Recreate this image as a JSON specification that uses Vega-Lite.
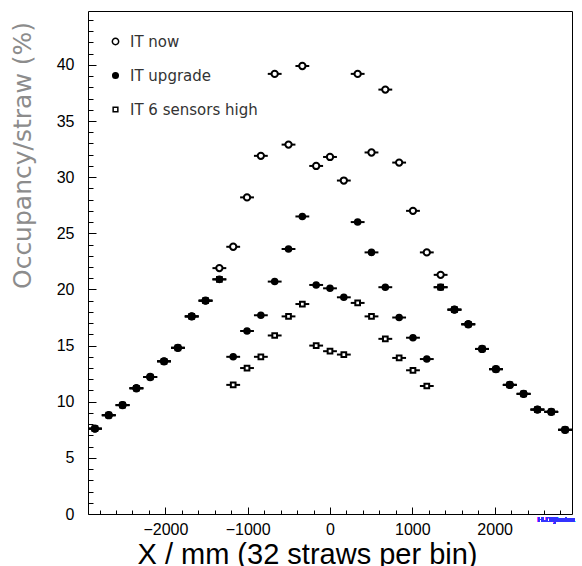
{
  "$schema": "https://vega.github.io/schema/vega-lite/v6.json",
  "width": 484,
  "height": 503,
  "autosize": {"type": "none"},
  "padding": {"left": 88, "top": 11, "right": 10, "bottom": 52},
  "background": "white",
  "config": {
    "view": {"stroke": "black", "strokeWidth": 1},
    "axis": {"domainColor": "black", "tickColor": "black", "labelColor": "black", "grid": false, "labelOverlap": false},
    "legend": {
      "orient": "none", "legendX": 20, "legendY": 23,
      "labelFont": "DejaVu Sans", "labelFontSize": 15, "labelColor": "#333333",
      "rowPadding": 18, "labelOffset": 7, "padding": 0,
      "symbolStrokeWidth": 1.5
    }
  },
  "data": {
    "values": [
      {"series": "IT 6 sensors high", "x": -2856, "lo": -2940, "hi": -2772, "y": 7.6},
      {"series": "IT 6 sensors high", "x": -2688, "lo": -2772, "hi": -2604, "y": 8.8},
      {"series": "IT 6 sensors high", "x": -2520, "lo": -2604, "hi": -2436, "y": 9.7},
      {"series": "IT 6 sensors high", "x": -2352, "lo": -2436, "hi": -2268, "y": 11.2},
      {"series": "IT 6 sensors high", "x": -2184, "lo": -2268, "hi": -2100, "y": 12.2},
      {"series": "IT 6 sensors high", "x": -2016, "lo": -2100, "hi": -1932, "y": 13.6},
      {"series": "IT 6 sensors high", "x": -1848, "lo": -1932, "hi": -1764, "y": 14.8},
      {"series": "IT 6 sensors high", "x": -1680, "lo": -1764, "hi": -1596, "y": 17.6},
      {"series": "IT 6 sensors high", "x": -1512, "lo": -1596, "hi": -1428, "y": 19.0},
      {"series": "IT 6 sensors high", "x": -1344, "lo": -1428, "hi": -1260, "y": 20.9},
      {"series": "IT 6 sensors high", "x": -1176, "lo": -1260, "hi": -1092, "y": 11.5},
      {"series": "IT 6 sensors high", "x": -1008, "lo": -1092, "hi": -924, "y": 13.0},
      {"series": "IT 6 sensors high", "x": -840, "lo": -924, "hi": -756, "y": 14.0},
      {"series": "IT 6 sensors high", "x": -672, "lo": -756, "hi": -588, "y": 15.9},
      {"series": "IT 6 sensors high", "x": -504, "lo": -588, "hi": -420, "y": 17.6},
      {"series": "IT 6 sensors high", "x": -336, "lo": -420, "hi": -252, "y": 18.7},
      {"series": "IT 6 sensors high", "x": -168, "lo": -252, "hi": -84, "y": 15.0},
      {"series": "IT 6 sensors high", "x": 0, "lo": -84, "hi": 84, "y": 14.5},
      {"series": "IT 6 sensors high", "x": 168, "lo": 84, "hi": 252, "y": 14.2},
      {"series": "IT 6 sensors high", "x": 336, "lo": 252, "hi": 420, "y": 18.8},
      {"series": "IT 6 sensors high", "x": 504, "lo": 420, "hi": 588, "y": 17.6},
      {"series": "IT 6 sensors high", "x": 672, "lo": 588, "hi": 756, "y": 15.6},
      {"series": "IT 6 sensors high", "x": 840, "lo": 756, "hi": 924, "y": 13.9},
      {"series": "IT 6 sensors high", "x": 1008, "lo": 924, "hi": 1092, "y": 12.8},
      {"series": "IT 6 sensors high", "x": 1176, "lo": 1092, "hi": 1260, "y": 11.4},
      {"series": "IT 6 sensors high", "x": 1344, "lo": 1260, "hi": 1428, "y": 20.2},
      {"series": "IT 6 sensors high", "x": 1512, "lo": 1428, "hi": 1596, "y": 18.2},
      {"series": "IT 6 sensors high", "x": 1680, "lo": 1596, "hi": 1764, "y": 16.9},
      {"series": "IT 6 sensors high", "x": 1848, "lo": 1764, "hi": 1932, "y": 14.7},
      {"series": "IT 6 sensors high", "x": 2016, "lo": 1932, "hi": 2100, "y": 12.9},
      {"series": "IT 6 sensors high", "x": 2184, "lo": 2100, "hi": 2268, "y": 11.5},
      {"series": "IT 6 sensors high", "x": 2352, "lo": 2268, "hi": 2436, "y": 10.7},
      {"series": "IT 6 sensors high", "x": 2520, "lo": 2436, "hi": 2604, "y": 9.3},
      {"series": "IT 6 sensors high", "x": 2688, "lo": 2604, "hi": 2772, "y": 9.1},
      {"series": "IT 6 sensors high", "x": 2856, "lo": 2772, "hi": 2940, "y": 7.5},

      {"series": "IT now", "x": -2856, "lo": -2940, "hi": -2772, "y": 7.6},
      {"series": "IT now", "x": -2688, "lo": -2772, "hi": -2604, "y": 8.8},
      {"series": "IT now", "x": -2520, "lo": -2604, "hi": -2436, "y": 9.7},
      {"series": "IT now", "x": -2352, "lo": -2436, "hi": -2268, "y": 11.2},
      {"series": "IT now", "x": -2184, "lo": -2268, "hi": -2100, "y": 12.2},
      {"series": "IT now", "x": -2016, "lo": -2100, "hi": -1932, "y": 13.6},
      {"series": "IT now", "x": -1848, "lo": -1932, "hi": -1764, "y": 14.8},
      {"series": "IT now", "x": -1680, "lo": -1764, "hi": -1596, "y": 17.6},
      {"series": "IT now", "x": -1512, "lo": -1596, "hi": -1428, "y": 19.0},
      {"series": "IT now", "x": -1344, "lo": -1428, "hi": -1260, "y": 21.9},
      {"series": "IT now", "x": -1176, "lo": -1260, "hi": -1092, "y": 23.8},
      {"series": "IT now", "x": -1008, "lo": -1092, "hi": -924, "y": 28.2},
      {"series": "IT now", "x": -840, "lo": -924, "hi": -756, "y": 31.9},
      {"series": "IT now", "x": -672, "lo": -756, "hi": -588, "y": 39.2},
      {"series": "IT now", "x": -504, "lo": -588, "hi": -420, "y": 32.9},
      {"series": "IT now", "x": -336, "lo": -420, "hi": -252, "y": 39.9},
      {"series": "IT now", "x": -168, "lo": -252, "hi": -84, "y": 31.0},
      {"series": "IT now", "x": 0, "lo": -84, "hi": 84, "y": 31.8},
      {"series": "IT now", "x": 168, "lo": 84, "hi": 252, "y": 29.7},
      {"series": "IT now", "x": 336, "lo": 252, "hi": 420, "y": 39.2},
      {"series": "IT now", "x": 504, "lo": 420, "hi": 588, "y": 32.2},
      {"series": "IT now", "x": 672, "lo": 588, "hi": 756, "y": 37.8},
      {"series": "IT now", "x": 840, "lo": 756, "hi": 924, "y": 31.3},
      {"series": "IT now", "x": 1008, "lo": 924, "hi": 1092, "y": 27.0},
      {"series": "IT now", "x": 1176, "lo": 1092, "hi": 1260, "y": 23.3},
      {"series": "IT now", "x": 1344, "lo": 1260, "hi": 1428, "y": 21.3},
      {"series": "IT now", "x": 1512, "lo": 1428, "hi": 1596, "y": 18.2},
      {"series": "IT now", "x": 1680, "lo": 1596, "hi": 1764, "y": 16.9},
      {"series": "IT now", "x": 1848, "lo": 1764, "hi": 1932, "y": 14.7},
      {"series": "IT now", "x": 2016, "lo": 1932, "hi": 2100, "y": 12.9},
      {"series": "IT now", "x": 2184, "lo": 2100, "hi": 2268, "y": 11.5},
      {"series": "IT now", "x": 2352, "lo": 2268, "hi": 2436, "y": 10.7},
      {"series": "IT now", "x": 2520, "lo": 2436, "hi": 2604, "y": 9.3},
      {"series": "IT now", "x": 2688, "lo": 2604, "hi": 2772, "y": 9.1},
      {"series": "IT now", "x": 2856, "lo": 2772, "hi": 2940, "y": 7.5},

      {"series": "IT upgrade", "x": -2856, "lo": -2940, "hi": -2772, "y": 7.6},
      {"series": "IT upgrade", "x": -2688, "lo": -2772, "hi": -2604, "y": 8.8},
      {"series": "IT upgrade", "x": -2520, "lo": -2604, "hi": -2436, "y": 9.7},
      {"series": "IT upgrade", "x": -2352, "lo": -2436, "hi": -2268, "y": 11.2},
      {"series": "IT upgrade", "x": -2184, "lo": -2268, "hi": -2100, "y": 12.2},
      {"series": "IT upgrade", "x": -2016, "lo": -2100, "hi": -1932, "y": 13.6},
      {"series": "IT upgrade", "x": -1848, "lo": -1932, "hi": -1764, "y": 14.8},
      {"series": "IT upgrade", "x": -1680, "lo": -1764, "hi": -1596, "y": 17.6},
      {"series": "IT upgrade", "x": -1512, "lo": -1596, "hi": -1428, "y": 19.0},
      {"series": "IT upgrade", "x": -1344, "lo": -1428, "hi": -1260, "y": 20.9},
      {"series": "IT upgrade", "x": -1176, "lo": -1260, "hi": -1092, "y": 14.0},
      {"series": "IT upgrade", "x": -1008, "lo": -1092, "hi": -924, "y": 16.3},
      {"series": "IT upgrade", "x": -840, "lo": -924, "hi": -756, "y": 17.7},
      {"series": "IT upgrade", "x": -672, "lo": -756, "hi": -588, "y": 20.7},
      {"series": "IT upgrade", "x": -504, "lo": -588, "hi": -420, "y": 23.6},
      {"series": "IT upgrade", "x": -336, "lo": -420, "hi": -252, "y": 26.5},
      {"series": "IT upgrade", "x": -168, "lo": -252, "hi": -84, "y": 20.4},
      {"series": "IT upgrade", "x": 0, "lo": -84, "hi": 84, "y": 20.1},
      {"series": "IT upgrade", "x": 168, "lo": 84, "hi": 252, "y": 19.3},
      {"series": "IT upgrade", "x": 336, "lo": 252, "hi": 420, "y": 26.0},
      {"series": "IT upgrade", "x": 504, "lo": 420, "hi": 588, "y": 23.3},
      {"series": "IT upgrade", "x": 672, "lo": 588, "hi": 756, "y": 20.2},
      {"series": "IT upgrade", "x": 840, "lo": 756, "hi": 924, "y": 17.5},
      {"series": "IT upgrade", "x": 1008, "lo": 924, "hi": 1092, "y": 15.7},
      {"series": "IT upgrade", "x": 1176, "lo": 1092, "hi": 1260, "y": 13.8},
      {"series": "IT upgrade", "x": 1344, "lo": 1260, "hi": 1428, "y": 20.2},
      {"series": "IT upgrade", "x": 1512, "lo": 1428, "hi": 1596, "y": 18.2},
      {"series": "IT upgrade", "x": 1680, "lo": 1596, "hi": 1764, "y": 16.9},
      {"series": "IT upgrade", "x": 1848, "lo": 1764, "hi": 1932, "y": 14.7},
      {"series": "IT upgrade", "x": 2016, "lo": 1932, "hi": 2100, "y": 12.9},
      {"series": "IT upgrade", "x": 2184, "lo": 2100, "hi": 2268, "y": 11.5},
      {"series": "IT upgrade", "x": 2352, "lo": 2268, "hi": 2436, "y": 10.7},
      {"series": "IT upgrade", "x": 2520, "lo": 2436, "hi": 2604, "y": 9.3},
      {"series": "IT upgrade", "x": 2688, "lo": 2604, "hi": 2772, "y": 9.1},
      {"series": "IT upgrade", "x": 2856, "lo": 2772, "hi": 2940, "y": 7.5}
    ]
  },
  "layer": [
    {
      "mark": {"type": "rule", "color": "black", "strokeWidth": 2},
      "encoding": {
        "x": {
          "field": "lo", "type": "quantitative",
          "scale": {"domain": [-2940, 2940], "nice": false, "zero": false},
          "axis": {
            "title": "X / mm (32 straws per bin)",
            "titleFont": "Liberation Sans", "titleFontSize": 29, "titleFontWeight": "normal", "titleColor": "black",
            "titleX": 219, "titleY": 49, "titleAlign": "center", "titleBaseline": "alphabetic",
            "values": [-2800, -2600, -2400, -2200, -2000, -1800, -1600, -1400, -1200, -1000, -800, -600, -400, -200, 0, 200, 400, 600, 800, 1000, 1200, 1400, 1600, 1800, 2000, 2200, 2400, 2600, 2800],
            "tickCount": 200,
            "labelExpr": "datum.value % 1000 === 0 ? datum.label : ''",
            "format": "d",
            "labelFont": "Liberation Sans", "labelFontSize": 16,
            "labelPadding": 14,
            "tickSize": {"condition": {"test": "datum.value % 1000 === 0", "value": -7}, "value": -4},
            "domain": false, "labelOverlap": false, "labelFlush": false, "labelBound": false
          }
        },
        "x2": {"field": "hi"},
        "y": {
          "field": "y", "type": "quantitative",
          "scale": {"domain": [0, 44.8], "nice": false},
          "axis": {
            "title": "Occupancy/straw (%)",
            "titleFont": "DejaVu Sans", "titleFontSize": 25, "titleFontWeight": "normal", "titleColor": "#8c8c8c",
            "titleX": -66, "titleY": 144, "titleAngle": -90, "titleAlign": "center", "titleBaseline": "middle",
            "values": [0, 1, 2, 3, 4, 5, 6, 7, 8, 9, 10, 11, 12, 13, 14, 15, 16, 17, 18, 19, 20, 21, 22, 23, 24, 25, 26, 27, 28, 29, 30, 31, 32, 33, 34, 35, 36, 37, 38, 39, 40, 41, 42, 43, 44],
            "tickCount": 200,
            "format": "d",
            "labelExpr": "datum.value % 5 === 0 ? datum.label : ''",
            "labelFont": "Liberation Sans", "labelFontSize": 16,
            "labelPadding": 22,
            "tickSize": {"condition": {"test": "datum.value % 5 === 0", "value": -8}, "value": -5},
            "domain": false, "labelOverlap": false, "labelFlush": false, "labelBound": false
          }
        }
      }
    },
    {
      "mark": {"type": "point", "filled": true, "strokeWidth": 2, "opacity": 1},
      "encoding": {
        "x": {"field": "x", "type": "quantitative"},
        "y": {"field": "y", "type": "quantitative"},
        "shape": {
          "field": "series", "type": "nominal", "title": null,
          "scale": {"domain": ["IT now", "IT upgrade", "IT 6 sensors high"], "range": ["circle", "circle", "square"]}
        },
        "fill": {
          "field": "series", "type": "nominal", "title": null,
          "scale": {"domain": ["IT now", "IT upgrade", "IT 6 sensors high"], "range": ["white", "black", "white"]}
        },
        "stroke": {
          "field": "series", "type": "nominal", "title": null,
          "scale": {"domain": ["IT now", "IT upgrade", "IT 6 sensors high"], "range": ["black", "black", "black"]}
        },
        "size": {
          "field": "series", "type": "nominal", "title": null,
          "scale": {"domain": ["IT now", "IT upgrade", "IT 6 sensors high"], "range": [40, 22, 70]}
        }
      }
    },
    {
      "mark": {"type": "text", "text": "H.Dijkstra", "font": "Liberation Sans", "fontSize": 8, "fontWeight": "bold", "color": "#3333ff", "align": "left", "baseline": "alphabetic"},
      "encoding": {
        "x": {"datum": 2520, "type": "quantitative"},
        "y": {"datum": -0.7, "type": "quantitative"}
      }
    }
  ]
}
